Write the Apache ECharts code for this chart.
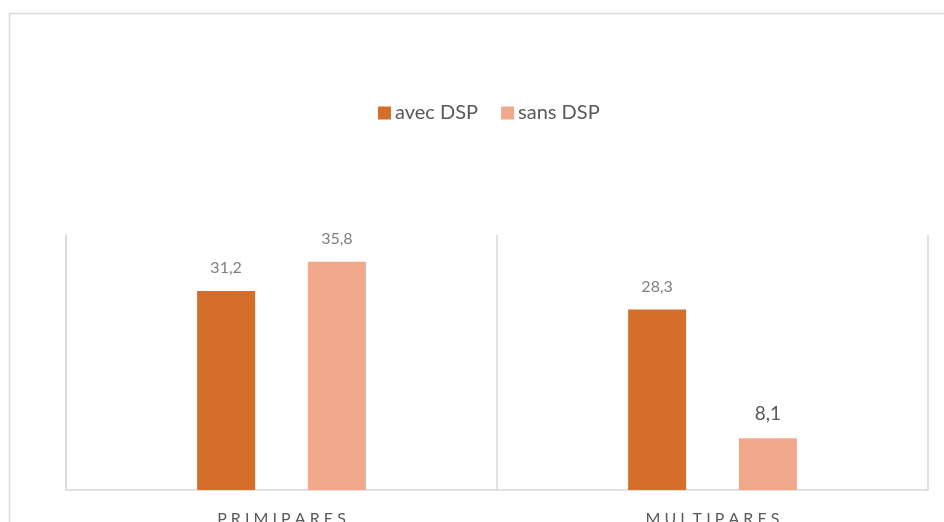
<!DOCTYPE html>
<html>
<head>
<meta charset="utf-8">
<script src="https://cdn.jsdelivr.net/npm/echarts@6/dist/echarts.min.js"></script>
<style>
html,body{margin:0;padding:0;background:#fff;}
#main{width:944px;height:522px;}
</style>
</head>
<body>
<div id="main"></div>
<script>
var categories = ['P R I M I P A R E S', 'M U L T I P A R E S'];
var avecDSP = [31.2, 28.3];
var sansDSP = [35.8, 8.1];

var myChart = echarts.init(document.getElementById('main'));

function labelled(arr, special) {
	return arr.map(function (v, i) {
		var item = {value: v};
		if (special && special[i]) {
			item.label = special[i];
		}
		return item;
	});
}

var baseLabel = {
	show: true,
	position: 'top',
	distance: 15,
	color: '#7f7f7f',
	fontSize: 16,
	fontFamily: 'Lato',
	formatter: function (p) { return String(p.value).replace('.', ','); }
};

var option = {
	animation: false,
	color: ['#d46e2a', '#f2a88a'],
	graphic: [{
		type: 'rect',
		left: 7, top: 11,
		shape: {width: 960, height: 600},
		style: {fill: 'none', stroke: '#d9d9d9', lineWidth: 1.5},
		silent: true
	}],
	legend: {
		left: 373,
		top: 98,
		itemWidth: 13,
		itemHeight: 13,
		itemGap: 23,
		icon: 'rect',
		textStyle: {color: '#595959', fontSize: 20, fontFamily: 'Lato', padding: [0, 0, 0, -1]},
		data: ['avec DSP', 'sans DSP']
	},
	grid: {left: 66, right: 16, top: 235, bottom: 32, outerBoundsMode: 'none', containLabel: false},
	xAxis: {
		type: 'category',
		data: categories,
		axisLine: {lineStyle: {color: '#d9d9d9', width: 1.5}},
		axisTick: {show: false},
		splitLine: {show: true, lineStyle: {color: '#d9d9d9', width: 1.5}},
		axisLabel: {color: '#595959', fontSize: 16, fontFamily: 'Lato', margin: 21}
	},
	yAxis: {
		type: 'value',
		min: 0,
		max: 40,
		show: true,
		axisLine: {show: true, lineStyle: {color: '#d9d9d9', width: 1.5}},
		axisLabel: {show: false},
		axisTick: {show: false},
		splitLine: {show: false}
	},
	series: [
		{
			name: 'avec DSP',
			type: 'bar',
			barWidth: 58,
			barGap: '91%',
			label: baseLabel,
			data: labelled(avecDSP)
		},
		{
			name: 'sans DSP',
			type: 'bar',
			barWidth: 58,
			barGap: '91%',
			label: baseLabel,
			data: labelled(sansDSP, [null, {fontSize: 19, color: '#595959'}])
		}
	]
};
myChart.setOption(option);
</script>
</body>
</html>
